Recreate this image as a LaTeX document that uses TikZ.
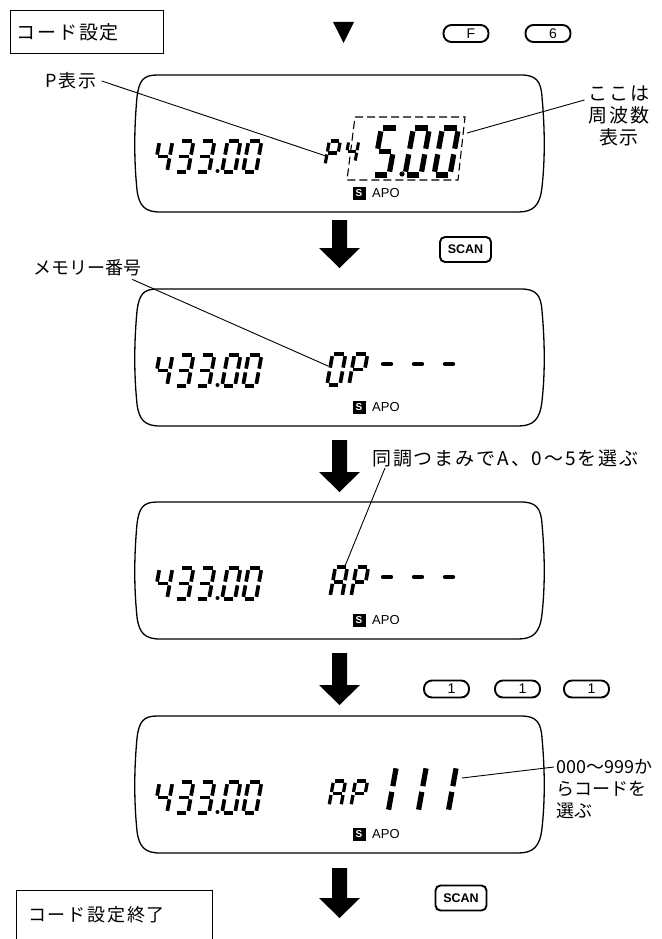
\documentclass[tikz,border=0pt]{standalone}
\usepackage{fontspec}
\setmainfont{Liberation Sans}
\newfontfamily\jpfont[LetterSpace=10]{Noto Sans CJK JP}
\newfontfamily\jpplain{Noto Sans CJK JP}
\usetikzlibrary{calc}

% seven-segment helpers
\newcommand\sgline[4]{\draw[line width=\ql] ({\qx+(#1)*\qw+0.18*(#2)*\qh},{\qy-(#2)*\qh}) -- ({\qx+(#3)*\qw+0.18*(#4)*\qh},{\qy-(#4)*\qh});}
\def\sga{\sgline{0.12}{1}{0.88}{1}}
\def\sgb{\sgline{1}{0.93}{1}{0.56}}
\def\sgc{\sgline{1}{0.44}{1}{0.07}}
\def\sgd{\sgline{0.12}{0}{0.88}{0}}
\def\sge{\sgline{0}{0.44}{0}{0.07}}
\def\sgf{\sgline{0}{0.93}{0}{0.56}}
\def\sgg{\sgline{0.12}{0.5}{0.88}{0.5}}
\newcommand\segdigit[6]{\begin{scope}\def\qx{(#1)}\def\qy{(#2)}\def\qw{(#3)}\def\qh{(#4)}\def\ql{#5}\foreach \s in {#6}{\csname sg\s\endcsname}\end{scope}}

\newcommand\lcdframe[1]{%
\draw[lcdline] (157,#1) -- (521,#1)
 .. controls (536,#1) and (541,{#1+6}) .. (542,{#1+22})
 .. controls (545,{#1+55}) and (545,{#1+85}) .. (542,{#1+112})
 .. controls (540,{#1+131}) and (533,{#1+137}) .. (518,{#1+137})
 -- (160,{#1+137})
 .. controls (145,{#1+137}) and (139,{#1+131}) .. (137,{#1+115})
 .. controls (134,{#1+85}) and (134,{#1+55}) .. (137,{#1+22})
 .. controls (139,{#1+6}) and (143,#1) .. (157,#1) -- cycle;}

\newcommand\freqA[1]{%
 \segdigit{154}{#1+97}{13}{31}{3.7pt}{f,g,b,c}
 \segdigit{175}{#1+97}{13}{31}{3.7pt}{a,b,g,c,d}
 \segdigit{196}{#1+97}{13}{31}{3.7pt}{a,b,g,c,d}
 \fill (217.5,{#1+96}) circle (2);
 \segdigit{222}{#1+97}{13}{31}{3.7pt}{a,b,c,d,e,f}
 \segdigit{243}{#1+97}{13}{31}{3.7pt}{a,b,c,d,e,f}}

\newcommand\sapo[2]{%
 \node[sbox] (s#1) at (359,{#2+118.5}) {S};
 \node[apo, anchor=west] (apo#1) at (372,{#2+118.5}) {APO};}

\newcommand\dashes[1]{%
 \foreach \xx in {387,418,449} {\draw[line width=4.4pt, line cap=round] ({\xx-4},{#1+75}) -- ({\xx+4},{#1+75});}}

\newcommand\bigarrow[2]{%
\fill (332,#1) -- (347,#1) -- (347,{#2-20}) -- (360,{#2-20}) -- (339.5,#2) -- (319,{#2-20}) -- (332,{#2-20}) -- cycle;}

\begin{document}
\begin{tikzpicture}[x=1pt,y=-1pt,
  lcdline/.style={line width=1.3pt},
  lead/.style={line width=0.9pt},
  jp/.style={font=\jpfont\fontsize{18}{22}\selectfont, inner sep=0pt},
  jpbig/.style={font=\jpfont\fontsize{19}{22}\selectfont, inner sep=0pt},
  jpp/.style={font=\jpplain\fontsize{18}{22}\selectfont, inner sep=0pt},
  sbox/.style={fill=black, text=white, font=\bfseries\fontsize{10}{10}\selectfont, minimum size=13pt, inner sep=0pt},
  apo/.style={font=\fontsize{13}{13}\selectfont, inner sep=0pt},
  keycap/.style={draw, line width=1.9pt, rounded corners=8pt, minimum width=45pt, minimum height=17pt, inner sep=0pt, font=\fontsize{14}{14}\selectfont},
  scankey/.style={draw, line width=1.9pt, rounded corners=5pt, minimum width=51pt, minimum height=25pt, inner sep=0pt, font=\bfseries\fontsize{12.5}{12.5}\selectfont}]
\useasboundingbox (0,0) rectangle (661,939);

% start box
\node[draw, line width=0.8pt, anchor=north west, minimum width=153pt, minimum height=43pt, inner xsep=6pt, text width=141pt, align=left, font=\jpfont\fontsize{19}{22}\selectfont] (start) at (10,10) {コード設定};
\fill (333,22) -- (354,22) -- (343.5,43) -- cycle;
\node[keycap] (kF) at (466,33.5) {\hspace*{10pt}F};
\node[keycap] (k6) at (548,33.5) {\hspace*{10pt}6};

% LCD 1
\lcdframe{75}
\freqA{75}
\segdigit{325}{165}{11}{24}{3.2pt}{a,b,f,g,e}
\segdigit{345}{162}{10}{21}{3pt}{f,g,b,c}
\draw[line width=1.1pt, dash pattern=on 8pt off 4pt] (355,117) -- (465,117) -- (458,180) -- (347,180) -- cycle;
\segdigit{373}{175}{16}{47}{5.2pt}{a,f,g,c,d}
\fill (402,174) circle (2.6);
\segdigit{405}{175}{16}{47}{5.2pt}{a,b,c,d,e,f}
\segdigit{434}{175}{16}{47}{5.2pt}{a,b,c,d,e,f}
\sapo{1}{75}
\node[jp] (plab) at (71,81) {P表示};
\coordinate (pT) at (326,156);
\draw[lead] ([xshift=5pt]plab.east) -- (pT);
\node[jpbig, align=center, anchor=north] (freqlab) at (619,86) {ここは\\周波数\\表示};
\coordinate (fS) at (467,133);
\draw[lead] (fS) -- ([xshift=-4pt,yshift=-14pt]freqlab.north west);

% arrow 1
\bigarrow{220}{268}
\node[scankey] (scan1) at (465.5,249.5) {SCAN};

% LCD 2
\node[jpp] (memlab) at (87,268) {メモリー番号};
\lcdframe{289}
\freqA{289}
\segdigit{327}{385}{13}{31}{3.7pt}{a,b,c,d,e,f}
\segdigit{349}{385}{13}{31}{3.7pt}{a,b,f,g,e}
\dashes{289}
\sapo{2}{289}
\coordinate (mT) at (328,366);
\draw[lead] ([xshift=-9pt,yshift=-3pt]memlab.south east) -- (mT);

% arrow 2
\bigarrow{440}{492}
\node[jpbig, anchor=west] (tunelab) at (372,459) {同調つまみでA、0〜5を選ぶ};

% LCD 3
\lcdframe{502}
\freqA{502}
\segdigit{330}{597}{12}{30}{3.6pt}{a,b,c,e,f,g}
\segdigit{351}{597}{12}{30}{3.6pt}{a,b,f,g,e}
\dashes{502}
\sapo{3}{502}
\coordinate (aT) at (345,566);
\draw[lead] ([xshift=13pt,yshift=-9pt]tunelab.west) -- (aT);

% arrow 3
\bigarrow{653}{705}
\node[keycap] (k1a) at (446.5,689) {\hspace*{10pt}1};
\node[keycap] (k1b) at (517.5,689) {\hspace*{10pt}1};
\node[keycap] (k1c) at (586.5,689) {\hspace*{10pt}1};

% LCD 4
\lcdframe{716}
\freqA{716}
\segdigit{329}{806}{12}{25}{3.3pt}{a,b,c,e,f,g}
\segdigit{351}{806}{12}{25}{3.3pt}{a,b,f,g,e}
\segdigit{372}{813}{16}{48}{5.2pt}{b,c}
\segdigit{402}{813}{16}{48}{5.2pt}{b,c}
\segdigit{432}{813}{16}{48}{5.2pt}{b,c}
\sapo{4}{716}
\node[jpp, align=left, anchor=north west] (codelab) at (556,759) {000〜999か\\らコードを\\選ぶ};
\coordinate (cT) at (462,778);
\draw[lead] (cT) -- ([xshift=-2pt,yshift=-8pt]codelab.north west);

% arrow 4
\bigarrow{868}{918}
\node[scankey] (scan2) at (461,898) {SCAN};

% end box
\draw[line width=0.8pt] (16,939) -- (16,890) -- (212,890) -- (212,939);
\node[jp, anchor=west] (endlab) at (28,915) {コード設定終了};
\end{tikzpicture}
\end{document}
